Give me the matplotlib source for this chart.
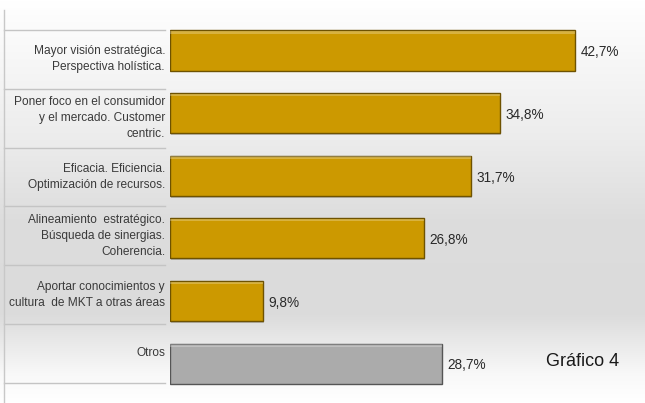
import matplotlib
matplotlib.use("Agg")
import matplotlib.pyplot as plt
import numpy as np

plt.rcParams["font.family"] = ["Liberation Sans", "DejaVu Sans"]

categories = [
    "Mayor visión estratégica.\nPerspectiva holística.",
    "Poner foco en el consumidor\ny el mercado. Customer\ncentric.",
    "Eficacia. Eficiencia.\nOptimización de recursos.",
    "Alineamiento  estratégico.\nBúsqueda de sinergias.\nCoherencia.",
    "Aportar conocimientos y\ncultura  de MKT a otras áreas",
    "Otros",
]
values = [42.7, 34.8, 31.7, 26.8, 9.8, 28.7]
value_labels = ["42,7%", "34,8%", "31,7%", "26,8%", "9,8%", "28,7%"]
bar_colors = ["#CC9900"] * 5 + ["#ABABAB"]
edge_colors = ["#6e5200"] * 5 + ["#555555"]

W, H = 645, 403
fig = plt.figure(figsize=(W / 100, H / 100), dpi=100)

# background: soft vertical gradient, white -> light grey -> white
bg = fig.add_axes([0, 0, 1, 1], zorder=0)
t = np.linspace(0, 1, 400)
shade = np.interp(t, [0.0, 0.35, 0.55, 0.78, 0.93, 1.0],
                  [1.0, 0.925, 0.865, 0.86, 0.975, 1.0])
img = np.stack([shade, shade, shade], axis=-1)[:, None, :].repeat(2, axis=1)
bg.imshow(img, aspect="auto", extent=[0, 1, 1, 0])
bg.set_xlim(0, 1); bg.set_ylim(1, 0)
bg.axis("off")

# left label table, in pixel coordinates
lab = fig.add_axes([0, 0, 1, 1], zorder=1)
lab.set_xlim(0, W); lab.set_ylim(H, 0)
lab.axis("off")
lab.patch.set_alpha(0)
row_top, row_h = 30, 58.8
for k in range(len(categories) + 1):
    y = row_top + row_h * k
    lab.plot([4, 165], [y, y], color="#c4c4c4", lw=1.0)
lab.plot([4, 4], [10, H], color="#c8c8c8", lw=1.0)
for k, c in enumerate(categories):
    lab.text(165, row_top + row_h * (k + 0.5), c, ha="right", va="center",
             fontsize=8.6, color="#3a3a3a", linespacing=1.45)

# bars
x0 = 170 / W
ax = fig.add_axes([x0, 0, 1 - x0, 1], zorder=2)
ax.patch.set_alpha(0)
pos = np.arange(len(values))
ax.set_xlim(0, 50.1)
ax.set_ylim(5.63, -0.807)
# drop shadow then bar
ax.barh(pos + 0.03, values, height=0.64, left=0.12, color="#00000030", lw=0)
ax.barh(pos, values, height=0.64, color=bar_colors, edgecolor=edge_colors, lw=1.0)
# light bevel on top edge
ax.barh(pos - 0.29, values, height=0.04, color="#ffffff40", lw=0)
for p, v, s in zip(pos, values, value_labels):
    ax.text(v + 0.6, p + 0.03, s, ha="left", va="center", fontsize=9.8, color="#2a2a2a")
ax.axis("off")

fig.text(546 / W, 1 - 362 / H, "Gráfico 4", ha="left", va="center",
         fontsize=13, color="#1a1a1a")

fig.savefig("out.png", dpi=100)
